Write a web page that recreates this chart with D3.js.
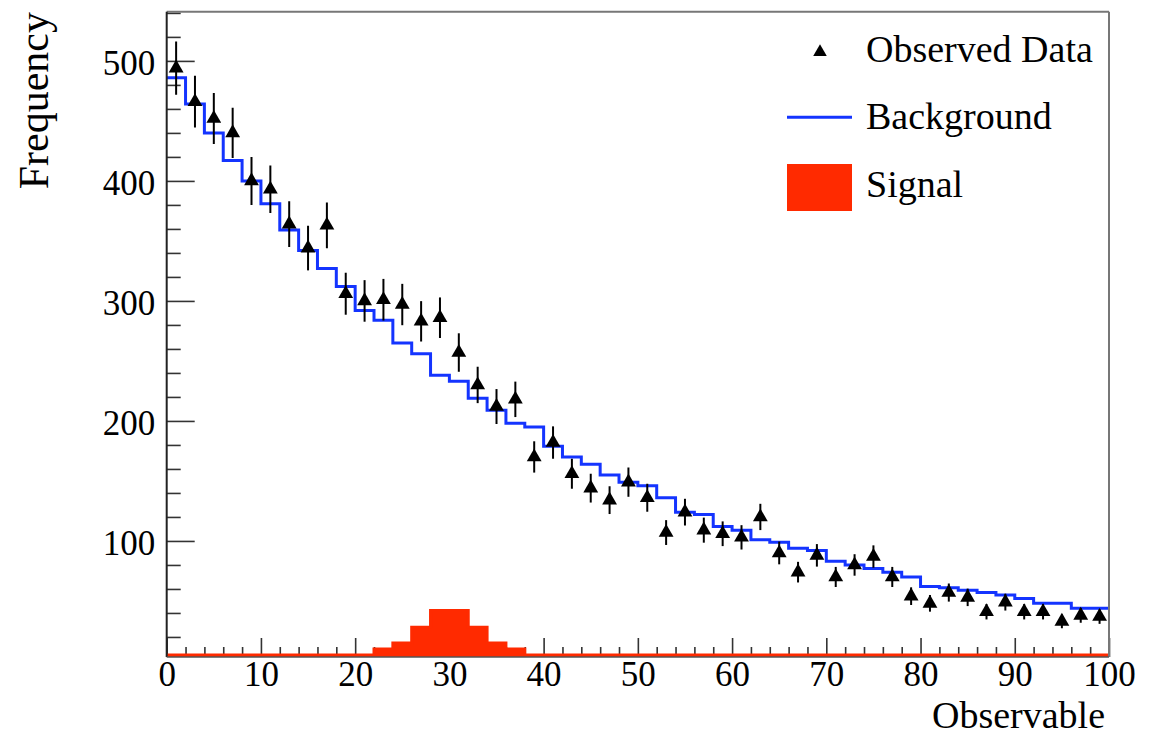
<!DOCTYPE html>
<html><head><meta charset="utf-8">
<script src="https://cdn.jsdelivr.net/npm/d3@7"></script>
<style>
body{margin:0;background:#fff}
svg text{font-family:"Liberation Serif","Times New Roman",serif;fill:#000}
</style>
</head><body>
<svg id="chart" width="1154" height="737"></svg>
<script>
// ---------------- data ----------------
const binCenters = [1,3,5,7,9,11,13,15,17,19,21,23,25,27,29,31,33,35,37,39,41,43,45,47,49,
  51,53,55,57,59,61,63,65,67,69,71,73,75,77,79,81,83,85,87,89,91,93,95,97,99];
const binHalfWidth = 1;
const observed = [494,466,452,440,400,393,364,344,363,306,300,301,297,283,286,257,230,212,218,170,
  182,156,144,134,149,136,107,124,109,106,103,120,90,74,88,70,80,87,70,54,
  48,57,53,41,49,41,41,33,38,37];
const background = [486,464,440,417,400,381,359,342,327,312,292,284,265,256,238,233,219,209,198,195,
  179,170,164,155,149,146,136,124,122,112,109,101,99,94,92,83,80,77,74,70,
  62,61,59,57,55,52,48,48,44,44];
const signal = [0,0,0,0,0,0,0,0,0,0,2,10,15,28,42,42,28,15,10,2,
  0,0,0,0,0,0,0,0,0,0,0,0,0,0,0,0,0,0,0,0,0,0,0,0,0,0,0,0,0,0];
const xTicks = [0,10,20,30,40,50,60,70,80,90,100];
const yTicks = [100,200,300,400,500];
const xDomain = [0,100];
const yDomain = [3.3,541];
const legendLabels = ["Observed Data","Background","Signal"];
const xTitle = "Observable", yTitle = "Frequency";

// ---------------- layout ----------------
const L = 166.7, R = 1109, T = 11.7, B = 657;
const blue = "#1434ff", red = "#ff2a00";
const svg = d3.select("#chart");
const x = d3.scaleLinear().domain(xDomain).range([L, R]);
const y = d3.scaleLinear().domain(yDomain).range([B, T]).clamp(true);

svg.append("defs").append("clipPath").attr("id","frame")
  .append("rect").attr("x",L).attr("y",T).attr("width",R-L).attr("height",B-T);

// minor tick values
const xMinor = d3.range(xDomain[0], xDomain[1]+0.01, 2).filter(v => v % 10 !== 0);
const yMinor = d3.range(20, 541, 20).filter(v => v % 100 !== 0);

// x axis
const gxMinor = svg.append("g").attr("transform",`translate(0,${B})`)
  .call(d3.axisBottom(x).tickValues(xMinor).tickSizeInner(-10).tickSizeOuter(0).tickFormat(""));
const gx = svg.append("g").attr("transform",`translate(0,${B})`)
  .call(d3.axisBottom(x).tickValues(xTicks).tickSizeInner(-19).tickSizeOuter(0).tickPadding(4).tickFormat(d3.format("d")));
// y axis
const gyMinor = svg.append("g").attr("transform",`translate(${L},0)`)
  .call(d3.axisLeft(y).tickValues(yMinor).tickSizeInner(-14).tickSizeOuter(0).tickFormat(""));
const gy = svg.append("g").attr("transform",`translate(${L},0)`)
  .call(d3.axisLeft(y).tickValues(yTicks).tickSizeInner(-28).tickSizeOuter(0).tickPadding(11.5).tickFormat(d3.format("d")));

[gxMinor,gx,gyMinor,gy].forEach(g => {
  g.select(".domain").remove();
  g.selectAll(".tick line").attr("stroke","#333").attr("stroke-width",1.6);
  g.selectAll(".tick text").style("font-size","35px").attr("fill","#000");
});
gy.selectAll(".tick text").attr("dy","0.4em");

// ---------------- marks ----------------
const plot = svg.append("g").attr("clip-path","url(#frame)");

function steps(vals){
  const pts = binCenters.map((c,i) => ({e: c - binHalfWidth, v: vals[i]}));
  pts.push({e: binCenters[binCenters.length-1] + binHalfWidth, v: vals[vals.length-1]});
  return pts;
}
const ySig = v => Math.min(y(v), B - 2);

// signal filled histogram
plot.append("path").datum(steps(signal))
  .attr("d", d3.area().curve(d3.curveStepAfter).x(d => x(d.e)).y0(B).y1(d => ySig(d.v)))
  .attr("fill", red).attr("stroke","none");
plot.append("path").datum(steps(signal))
  .attr("d", d3.line().curve(d3.curveStepAfter).x(d => x(d.e)).y(d => ySig(d.v)))
  .attr("fill","none").attr("stroke", red).attr("stroke-width",3);

// background line histogram
plot.append("path").datum(steps(background))
  .attr("d", d3.line().curve(d3.curveStepAfter).x(d => x(d.e)).y(d => y(d.v)))
  .attr("fill","none").attr("stroke", blue).attr("stroke-width",3);

// observed data with sqrt(N) error bars
const pts = binCenters.map((c,i) => ({c, v: observed[i]}));
plot.selectAll("line.err").data(pts).join("line").attr("class","err")
  .attr("x1", d => x(d.c)).attr("x2", d => x(d.c))
  .attr("y1", d => y(d.v + Math.sqrt(d.v))).attr("y2", d => y(d.v - Math.sqrt(d.v)))
  .attr("stroke","#000").attr("stroke-width",2);
const tri = d3.symbol().type(d3.symbolTriangle).size(95);
plot.selectAll("path.mk").data(pts).join("path").attr("class","mk")
  .attr("d", tri).attr("transform", d => `translate(${x(d.c)},${y(d.v)})`).attr("fill","#000");

// ---------------- frame ----------------
svg.append("line").attr("x1",L).attr("x2",R).attr("y1",T).attr("y2",T).attr("stroke","#777").attr("stroke-width",2);
svg.append("line").attr("x1",R).attr("x2",R).attr("y1",T).attr("y2",B).attr("stroke","#777").attr("stroke-width",2);
svg.append("line").attr("x1",L).attr("x2",L).attr("y1",T).attr("y2",B).attr("stroke","#222").attr("stroke-width",2);
svg.append("line").attr("x1",L).attr("x2",R).attr("y1",B).attr("y2",B).attr("stroke","#555").attr("stroke-width",1.6);

// ---------------- titles ----------------
svg.append("text").attr("x",1105).attr("y",728).attr("text-anchor","end")
  .style("font-size","38px").text(xTitle);
svg.append("text").attr("transform","translate(48,12) rotate(-90)").attr("text-anchor","end")
  .style("font-size","42px").text(yTitle);

// ---------------- legend ----------------
const lg = svg.append("g");
const rows = [62, 128.5, 197];
lg.append("path").attr("d", d3.symbol().type(d3.symbolTriangle).size(80))
  .attr("transform",`translate(820,${rows[0]-10})`).attr("fill","#000");
lg.append("line").attr("x1",787).attr("x2",852).attr("y1",117.3).attr("y2",117.3)
  .attr("stroke",blue).attr("stroke-width",3);
lg.append("rect").attr("x",787).attr("y",164).attr("width",65).attr("height",47).attr("fill",red);
legendLabels.forEach((t,i) => {
  lg.append("text").attr("x",866).attr("y",rows[i]).style("font-size","38px").text(t);
});
</script>
</body></html>
